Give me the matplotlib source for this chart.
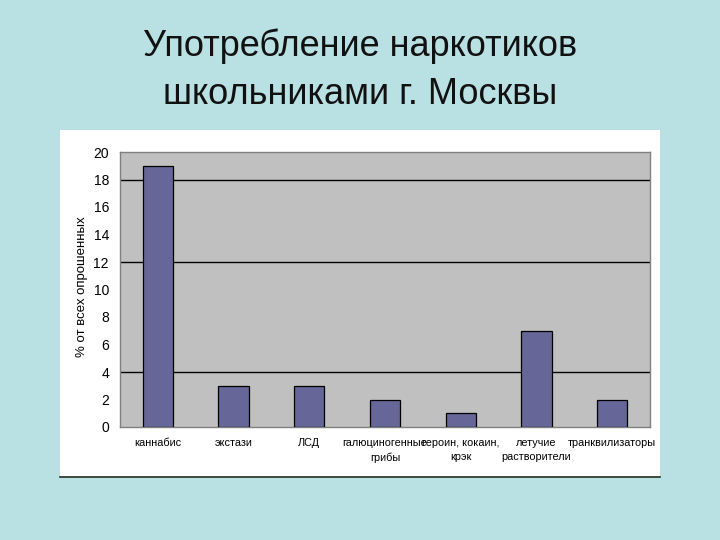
import numpy as np
import matplotlib.pyplot as plt
from matplotlib.patches import Rectangle

categories = ['каннабис', 'экстази', 'ЛСД', 'галюциногенные\nгрибы',
              'героин, кокаин,\nкрэк', 'летучие\nрастворители', 'транквилизаторы']
values = [19, 3, 3, 2, 1, 7, 2]
yticks = [0, 2, 4, 6, 8, 10, 12, 14, 16, 18, 20]
grid_at = [4, 12, 18]

plt.rcParams['font.family'] = ['Liberation Sans', 'DejaVu Sans']

fig = plt.figure(figsize=(7.2, 5.4), dpi=100)
fig.patch.set_facecolor('#b9e0e3')

# white chart panel behind the axes
bg = fig.add_axes([0, 0, 1, 1], zorder=-1)
bg.set_xlim(0, 720)
bg.set_ylim(540, 0)
bg.axis('off')
bg.add_patch(Rectangle((60, 130), 600, 347, facecolor='white', edgecolor='none'))
bg.plot([60, 660], [477, 477], color='#203020', lw=1.2)

fig.text(0.5, 1-46/540, 'Употребление наркотиков', ha='center', va='center',
         fontsize=26, color='#111111')
fig.text(0.5, 1-95/540, 'школьниками г. Москвы', ha='center', va='center',
         fontsize=26, color='#111111')

ax = fig.add_axes([120/720, 1-427/540, 530/720, 275/540])
ax.set_facecolor('#c0c0c0')
x = np.arange(len(categories))
ax.bar(x, values, width=0.4, color='#666699', edgecolor='black', lw=0.9, zorder=3)
for g in grid_at:
    ax.axhline(g, color='black', lw=1.0, zorder=1)
ax.set_xlim(-0.5, len(categories) - 0.5)
ax.set_ylim(0, 20)
ax.set_yticks(yticks)
ax.set_yticklabels([str(t) for t in yticks], fontsize=10)
ax.set_xticks(x)
ax.set_xticklabels(categories, fontsize=7.8, linespacing=1.5)
ax.tick_params(axis='both', length=0)
ax.tick_params(axis='x', pad=8)
ax.tick_params(axis='y', pad=8)
for s in ax.spines.values():
    s.set_color('#808080')
    s.set_linewidth(1.0)
ax.set_ylabel('% от всех опрошенных', fontsize=9.5)
ax.yaxis.set_label_coords(-0.06, 0.51)

fig.savefig('out.png', dpi=100, facecolor=fig.get_facecolor())
